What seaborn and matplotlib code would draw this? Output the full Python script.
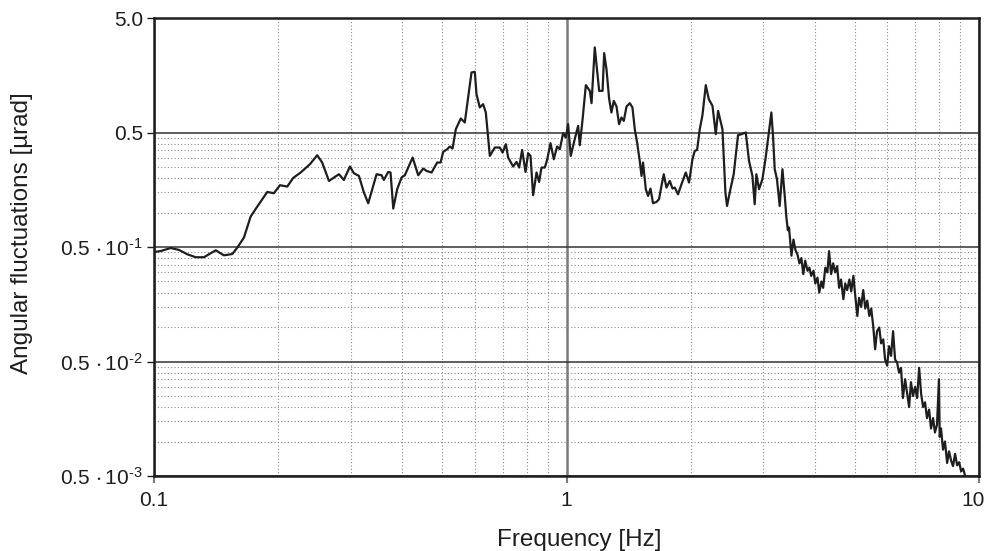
import matplotlib
matplotlib.use("Agg")
import matplotlib.pyplot as plt
import matplotlib.ticker as mticker
import matplotlib.transforms as mtransforms
import seaborn as sns
import pandas as pd

# Spectrum of angular fluctuations (frequency in Hz, amplitude in µrad)
freq_hz = [
    0.1, 0.1038, 0.1098, 0.115, 0.1204, 0.1262, 0.1322, 0.1359, 0.1411, 0.1477,
    0.1548, 0.1592, 0.1652, 0.1715, 0.178, 0.1882, 0.1953, 0.202, 0.2104, 0.2175,
    0.2267, 0.2388, 0.2487, 0.2557, 0.2655, 0.2807, 0.2886, 0.2985, 0.3052, 0.3139,
    0.3228, 0.3306, 0.3464, 0.3562, 0.3608, 0.3696, 0.3745, 0.3802, 0.3886, 0.3982,
    0.4056, 0.4236, 0.437, 0.4494, 0.458, 0.4709, 0.4859, 0.4952, 0.5023, 0.5136,
    0.5214, 0.5293, 0.5391, 0.5543, 0.5668, 0.5774, 0.5884, 0.5994, 0.6051, 0.6163,
    0.6278, 0.6374, 0.6518, 0.6703, 0.6893, 0.6998, 0.7128, 0.722, 0.7424, 0.7566,
    0.7677, 0.7806, 0.7955, 0.8072, 0.818, 0.83, 0.8459, 0.8583, 0.8698, 0.886,
    0.8974, 0.9146, 0.9316, 0.9489, 0.9634, 0.9813, 0.9961, 1.009, 1.024, 1.047,
    1.067, 1.077, 1.094, 1.114, 1.139, 1.15, 1.171, 1.2, 1.223, 1.234,
    1.25, 1.269, 1.285, 1.302, 1.322, 1.341, 1.359, 1.377, 1.398, 1.424,
    1.445, 1.464, 1.483, 1.505, 1.52, 1.533, 1.557, 1.577, 1.598, 1.621,
    1.652, 1.676, 1.699, 1.721, 1.747, 1.78, 1.807, 1.83, 1.864, 1.9,
    1.946, 1.982, 2.02, 2.046, 2.073, 2.104, 2.136, 2.176, 2.213, 2.259,
    2.301, 2.331, 2.388, 2.428, 2.45, 2.497, 2.543, 2.605, 2.655, 2.72,
    2.77, 2.823, 2.859, 2.886, 2.929, 2.985, 3.04, 3.08, 3.138, 3.167,
    3.197, 3.238, 3.287, 3.338, 3.381,
    3.413, 3.44, 3.463, 3.51, 3.55, 3.59, 3.63, 3.67, 3.71, 3.75,
    3.79, 3.84, 3.88, 3.92, 3.97, 4.01, 4.06, 4.10, 4.15, 4.19,
    4.24, 4.29, 4.33, 4.38, 4.43, 4.48, 4.53, 4.58, 4.63, 4.69,
    4.74, 4.79, 4.85, 4.90, 4.96, 5.01, 5.07, 5.12, 5.18, 5.24,
    5.30, 5.36, 5.42, 5.48, 5.54, 5.60, 5.66, 5.73, 5.79, 5.86,
    5.92, 5.99, 6.05, 6.12, 6.19, 6.26, 6.33, 6.40, 6.47, 6.54,
    6.62, 6.69, 6.77, 6.84, 6.92, 7.00, 7.08, 7.16, 7.24, 7.32,
    7.40, 7.48, 7.57, 7.65, 7.74, 7.82, 7.91, 7.997, 8.03, 8.09,
    8.18, 8.27, 8.37, 8.46, 8.56, 8.65, 8.75, 8.85, 8.95, 9.05,
    9.15, 9.25,
]
amplitude_urad = [
    0.0452, 0.0461, 0.049, 0.0471, 0.0432, 0.0407, 0.0407, 0.0432, 0.0468, 0.0423,
    0.0434, 0.0494, 0.0604, 0.0922, 0.1128, 0.1513, 0.1474, 0.1732, 0.1686, 0.2006,
    0.2236, 0.2642, 0.3166, 0.2734, 0.1888, 0.216, 0.1926, 0.2522, 0.2204, 0.2088,
    0.1494, 0.1205, 0.216, 0.2117, 0.1926, 0.2262, 0.2236, 0.1083, 0.1597, 0.2022,
    0.2117, 0.3023, 0.2117, 0.2422, 0.2308, 0.2236, 0.2734, 0.2734, 0.3383, 0.3572,
    0.3772, 0.3623, 0.5343, 0.663, 0.6116, 1.011, 1.673, 1.693, 1.081, 0.827,
    0.884, 0.748, 0.3121, 0.3697, 0.3697, 0.3343, 0.395, 0.3023, 0.2522, 0.2767,
    0.2472, 0.3523, 0.2262, 0.3296, 0.3121, 0.1415, 0.2236, 0.185, 0.2472, 0.2472,
    0.2881, 0.4031, 0.2922, 0.3772, 0.3572, 0.493, 0.452, 0.591, 0.3121, 0.4369,
    0.571, 0.3872, 0.6534, 1.296, 1.155, 0.902, 2.767, 1.155, 1.155, 2.467,
    1.787, 0.977, 0.748, 0.944, 0.844, 0.591, 0.676, 0.6317, 0.844, 0.902,
    0.827, 0.5343, 0.4088, 0.2823, 0.2088, 0.2734, 0.1597, 0.1395, 0.162, 0.1205,
    0.1237, 0.1306, 0.1707, 0.216, 0.1652, 0.1888, 0.162, 0.1652, 0.1444, 0.1767,
    0.2236, 0.1828, 0.2922, 0.3453, 0.3523, 0.5343, 0.7084, 1.296, 0.977, 0.854,
    0.4832, 0.7726, 0.5343, 0.1494, 0.1141, 0.1597, 0.216, 0.4736, 0.4832, 0.5,
    0.2823, 0.2088, 0.1181, 0.216, 0.1597, 0.1953, 0.3023, 0.4369, 0.748, 0.467,
    0.2389, 0.1953, 0.1141, 0.2389, 0.1395,
    0.090, 0.070, 0.074, 0.042, 0.058, 0.047, 0.043, 0.036, 0.040, 0.029,
    0.038, 0.031, 0.033, 0.028, 0.031, 0.024, 0.027, 0.020, 0.025, 0.022,
    0.033, 0.030, 0.046, 0.029, 0.036, 0.030, 0.034, 0.022, 0.026, 0.0175,
    0.024, 0.021, 0.026, 0.0205, 0.028, 0.019, 0.0125, 0.018, 0.015, 0.021,
    0.0145, 0.017, 0.0125, 0.0145, 0.0102, 0.0064, 0.0092, 0.0099, 0.0072, 0.0078,
    0.0052, 0.0046, 0.0068, 0.0056, 0.0092, 0.0052, 0.0049, 0.0040, 0.0044, 0.0024,
    0.0035, 0.0027, 0.0020, 0.0033, 0.0025, 0.0030, 0.0024, 0.0044, 0.0026, 0.0020,
    0.0022, 0.0016, 0.0019, 0.0013, 0.0016, 0.0012, 0.0014, 0.0035, 0.0011, 0.0013,
    0.00085, 0.0010, 0.00065, 0.00082, 0.00068, 0.00061, 0.00078, 0.00062, 0.00066, 0.00055,
    0.00058, 0.000505,
]

y_major = [0.0005, 0.005, 0.05, 0.5, 5.0]
y_labels = [
    r"$\mathregular{0.5\,\cdot10^{\text{-}3}}$",
    r"$\mathregular{0.5\,\cdot10^{\text{-}2}}$",
    r"$\mathregular{0.5\,\cdot10^{\text{-}1}}$",
    "0.5",
    "5.0",
]
x_major = [0.1, 1, 10]
x_labels = ["0.1", "1", "10"]

sns.set_theme(style="white")
plt.rcParams["font.family"] = ["Liberation Sans", "DejaVu Sans"]
plt.rcParams["mathtext.fontset"] = "custom"
plt.rcParams["mathtext.rm"] = "Liberation Sans"
plt.rcParams["mathtext.it"] = "Liberation Sans:italic"
plt.rcParams["mathtext.bf"] = "Liberation Sans:bold"

ink = "#1e1e1e"

fig = plt.figure(figsize=(9.86, 5.51), dpi=100)
ax = fig.add_axes([154 / 986, 1 - 476 / 551, 825 / 986, 458 / 551])

df = pd.DataFrame({"f": freq_hz, "a": amplitude_urad})
sns.lineplot(data=df, x="f", y="a", ax=ax, sort=False, estimator=None,
             color=ink, lw=1.6, zorder=5)

ax.set_xscale("log")
ax.set_yscale("log")
ax.set_xlim(0.1, 10)
ax.set_ylim(0.0005, 5.0)

# y: major lines at 0.5·10^k, minor lines at multiples of 0.5·10^k
ax.yaxis.set_major_locator(mticker.FixedLocator(y_major))
ax.yaxis.set_major_formatter(mticker.FixedFormatter(y_labels))
y_minor = [0.5 * 10.0 ** k * n for k in range(-4, 0) for n in range(2, 10)]
ax.yaxis.set_minor_locator(mticker.FixedLocator(y_minor))
ax.yaxis.set_minor_formatter(mticker.NullFormatter())

ax.xaxis.set_major_locator(mticker.FixedLocator(x_major))
ax.xaxis.set_major_formatter(mticker.FixedFormatter(x_labels))
ax.xaxis.set_minor_locator(mticker.LogLocator(base=10, subs=range(2, 10)))
ax.xaxis.set_minor_formatter(mticker.NullFormatter())

ax.grid(which="minor", axis="both", ls=(0, (1, 2)), color="#8c8c8c", lw=0.8)
ax.grid(which="major", axis="y", ls="-", color="#333333", lw=1.1)
ax.grid(which="major", axis="x", ls="-", color="#7a7a7a", lw=1.8)
ax.set_axisbelow(True)

for side in ["left", "bottom", "top", "right"]:
    ax.spines[side].set_visible(True)
    ax.spines[side].set_color(ink)
    ax.spines[side].set_linewidth(1.8)

ax.tick_params(axis="y", which="major", direction="out", length=5, width=1.0,
               color=ink, labelsize=15, labelcolor=ink, pad=3, left=True)
ax.tick_params(axis="x", which="major", direction="out", length=5, width=1.5,
               color="#7a7a7a", labelsize=15, labelcolor=ink, pad=6, bottom=True)
ax.tick_params(which="minor", length=0)

# keep the right-most frequency label inside the canvas
fig.canvas.draw()
last = ax.get_xticklabels()[-1]
last.set_transform(last.get_transform()
                   + mtransforms.ScaledTranslation(-6 / 100, 0, fig.dpi_scale_trans))

ax.set_xlabel("Frequency [Hz]", fontsize=17.5, color=ink)
ax.set_ylabel("Angular fluctuations [µrad]", fontsize=17.5, color=ink)
ax.xaxis.set_label_coords(0.516, -0.115)
ax.yaxis.set_label_coords(-0.147, 0.531)

fig.savefig("out.png", dpi=100, facecolor="white")
